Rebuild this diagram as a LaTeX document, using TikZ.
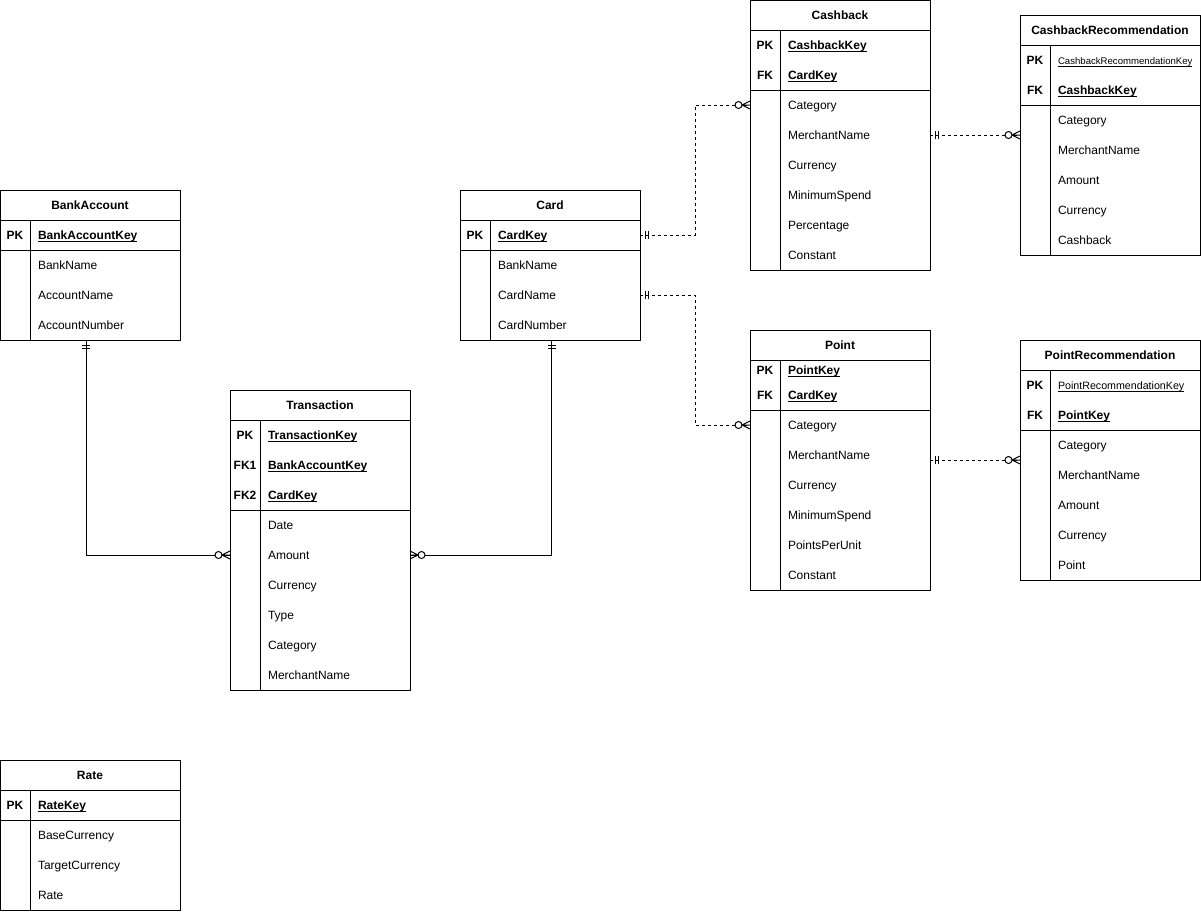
\documentclass[tikz,border=0pt]{standalone}
\usepackage{fontspec}
\setmainfont{Liberation Sans}
\usepackage{tikz}
\usetikzlibrary{calc}

\newcommand{\rowstrut}{\rule[-2.2pt]{0pt}{11pt}}
\newcommand{\keyline}[1]{\setbox0\hbox{#1}\rlap{\rule[-1.6pt]{\wd0}{0.6pt}}\box0}
\newcommand{\keyrow}[2]{\rowstrut\makebox[22.5pt]{\bfseries #1}\hspace{6pt}\keyline{\bfseries #2}}
\newcommand{\smallkey}[3]{\rowstrut\makebox[22.5pt]{\bfseries #1}\hspace{6pt}\keyline{\fontsize{#3}{9}\selectfont #2}}
\newcommand{\attr}[1]{\rowstrut\hspace*{28.5pt}#1}

\newcommand{\mandone}[2]{%
  \begin{scope}[shift={#1},rotate=#2]
    \draw[solid] (5,-4) -- (5,4) (8,-4) -- (8,4);
  \end{scope}}
\newcommand{\zeromany}[2]{%
  \begin{scope}[shift={#1},rotate=#2]
    \draw[solid] (0,-4) -- (8,0) -- (0,4) (0,0) -- (8,0);
    \draw[solid,fill=white] (11.5,0) circle (3.5);
  \end{scope}}

\begin{document}
\begin{tikzpicture}[x=0.75pt,y=-0.75pt,line width=0.75pt,
  font=\fontsize{9}{11}\selectfont,
  every node/.style={outer sep=0pt},
  tbl/.style={draw,minimum width=135pt,minimum height=22.5pt,inner sep=0pt,font=\fontsize{9}{11}\selectfont\bfseries},
  row/.style={text width=135pt,minimum height=22.5pt,inner sep=0pt,align=left},
  thinrow/.style={row,minimum height=18.75pt},
  optional/.style={dash pattern=on 2.25pt off 2.25pt}]
\useasboundingbox (0,0) rectangle (1201,911);

\node[tbl] (bank) at (90,205) {BankAccount};
\node[row] (bank-k1) at (90,235) {\keyrow{PK}{BankAccountKey}};
\node[row] (bank-a1) at (90,265) {\attr{BankName}};
\node[row] (bank-a2) at (90,295) {\attr{AccountName}};
\node[row] (bank-a3) at (90,325) {\attr{AccountNumber}};
\draw (bank.north west) rectangle (bank-a3.south east);
\draw (bank-a1.north west) -- (bank-a1.north east);
\draw ($(bank.south west)+(30,0)$) -- ($(bank-a3.south west)+(30,0)$);

\node[tbl] (card) at (550,205) {Card};
\node[row] (card-k1) at (550,235) {\keyrow{PK}{CardKey}};
\node[row] (card-a1) at (550,265) {\attr{BankName}};
\node[row] (card-a2) at (550,295) {\attr{CardName}};
\node[row] (card-a3) at (550,325) {\attr{CardNumber}};
\draw (card.north west) rectangle (card-a3.south east);
\draw (card-a1.north west) -- (card-a1.north east);
\draw ($(card.south west)+(30,0)$) -- ($(card-a3.south west)+(30,0)$);

\node[tbl] (tr) at (320,405) {Transaction};
\node[row] (tr-k1) at (320,435) {\keyrow{PK}{TransactionKey}};
\node[row] (tr-k2) at (320,465) {\keyrow{FK1}{BankAccountKey}};
\node[row] (tr-k3) at (320,495) {\keyrow{FK2}{CardKey}};
\node[row] (tr-a1) at (320,525) {\attr{Date}};
\node[row] (tr-a2) at (320,555) {\attr{Amount}};
\node[row] (tr-a3) at (320,585) {\attr{Currency}};
\node[row] (tr-a4) at (320,615) {\attr{Type}};
\node[row] (tr-a5) at (320,645) {\attr{Category}};
\node[row] (tr-a6) at (320,675) {\attr{MerchantName}};
\draw (tr.north west) rectangle (tr-a6.south east);
\draw (tr-a1.north west) -- (tr-a1.north east);
\draw ($(tr.south west)+(30,0)$) -- ($(tr-a6.south west)+(30,0)$);

\node[tbl] (rate) at (90,775) {Rate};
\node[row] (rate-k1) at (90,805) {\keyrow{PK}{RateKey}};
\node[row] (rate-a1) at (90,835) {\attr{BaseCurrency}};
\node[row] (rate-a2) at (90,865) {\attr{TargetCurrency}};
\node[row] (rate-a3) at (90,895) {\attr{Rate}};
\draw (rate.north west) rectangle (rate-a3.south east);
\draw (rate-a1.north west) -- (rate-a1.north east);
\draw ($(rate.south west)+(30,0)$) -- ($(rate-a3.south west)+(30,0)$);

\node[tbl] (cb) at (840,15) {Cashback};
\node[row] (cb-k1) at (840,45) {\keyrow{PK}{CashbackKey}};
\node[row] (cb-k2) at (840,75) {\keyrow{FK}{CardKey}};
\node[row] (cb-a1) at (840,105) {\attr{Category}};
\node[row] (cb-a2) at (840,135) {\attr{MerchantName}};
\node[row] (cb-a3) at (840,165) {\attr{Currency}};
\node[row] (cb-a4) at (840,195) {\attr{MinimumSpend}};
\node[row] (cb-a5) at (840,225) {\attr{Percentage}};
\node[row] (cb-a6) at (840,255) {\attr{Constant}};
\draw (cb.north west) rectangle (cb-a6.south east);
\draw (cb-a1.north west) -- (cb-a1.north east);
\draw ($(cb.south west)+(30,0)$) -- ($(cb-a6.south west)+(30,0)$);

\node[tbl] (cbr) at (1110,30) {CashbackRecommendation};
\node[row] (cbr-k1) at (1110,60) {\smallkey{PK}{CashbackRecommendationKey}{7.2}};
\node[row] (cbr-k2) at (1110,90) {\keyrow{FK}{CashbackKey}};
\node[row] (cbr-a1) at (1110,120) {\attr{Category}};
\node[row] (cbr-a2) at (1110,150) {\attr{MerchantName}};
\node[row] (cbr-a3) at (1110,180) {\attr{Amount}};
\node[row] (cbr-a4) at (1110,210) {\attr{Currency}};
\node[row] (cbr-a5) at (1110,240) {\attr{Cashback}};
\draw (cbr.north west) rectangle (cbr-a5.south east);
\draw (cbr-a1.north west) -- (cbr-a1.north east);
\draw ($(cbr.south west)+(30,0)$) -- ($(cbr-a5.south west)+(30,0)$);

\node[tbl] (pt) at (840,345) {Point};
\node[thinrow] (pt-k1) at (840,370.5) {\keyrow{PK}{PointKey}};
\node[thinrow] (pt-k2) at (840,395.5) {\keyrow{FK}{CardKey}};
\node[row] (pt-a1) at (840,425) {\attr{Category}};
\node[row] (pt-a2) at (840,455) {\attr{MerchantName}};
\node[row] (pt-a3) at (840,485) {\attr{Currency}};
\node[row] (pt-a4) at (840,515) {\attr{MinimumSpend}};
\node[row] (pt-a5) at (840,545) {\attr{PointsPerUnit}};
\node[row] (pt-a6) at (840,575) {\attr{Constant}};
\draw (pt.north west) rectangle (pt-a6.south east);
\draw (pt-a1.north west) -- (pt-a1.north east);
\draw ($(pt.south west)+(30,0)$) -- ($(pt-a6.south west)+(30,0)$);

\node[tbl] (ptr) at (1110,355) {PointRecommendation};
\node[row] (ptr-k1) at (1110,385) {\smallkey{PK}{PointRecommendationKey}{8}};
\node[row] (ptr-k2) at (1110,415) {\keyrow{FK}{PointKey}};
\node[row] (ptr-a1) at (1110,445) {\attr{Category}};
\node[row] (ptr-a2) at (1110,475) {\attr{MerchantName}};
\node[row] (ptr-a3) at (1110,505) {\attr{Amount}};
\node[row] (ptr-a4) at (1110,535) {\attr{Currency}};
\node[row] (ptr-a5) at (1110,565) {\attr{Point}};
\draw (ptr.north west) rectangle (ptr-a5.south east);
\draw (ptr-a1.north west) -- (ptr-a1.north east);
\draw ($(ptr.south west)+(30,0)$) -- ($(ptr-a5.south west)+(30,0)$);

\coordinate (bank-out) at ($(bank-a3.south)+(-4,0)$);
\coordinate (card-out) at ($(card-a3.south)+(1.5,0)$);
\draw (bank-out) |- (tr-a2.west);
\draw (card-out) |- (tr-a2.east);
\draw[optional] (card-k1.east) -- ++(55,0) |- (cb-a1.west);
\draw[optional] (card-a2.east) -- ++(55,0) |- (pt-a1.west);
\draw[optional] (cbr-a1.south west -| cb-a2.east) -- (cbr-a1.south west);
\draw[optional] (ptr-a1.south west -| pt-a2.east) -- (ptr-a1.south west);

\mandone{(bank-out)}{-90}
\zeromany{(tr-a2.west)}{180}
\mandone{(card-out)}{-90}
\zeromany{(tr-a2.east)}{0}
\mandone{(card-k1.east)}{0}
\zeromany{(cb-a1.west)}{180}
\mandone{(card-a2.east)}{0}
\zeromany{(pt-a1.west)}{180}
\mandone{(cbr-a1.south west -| cb-a2.east)}{0}
\zeromany{(cbr-a1.south west)}{180}
\mandone{(ptr-a1.south west -| pt-a2.east)}{0}
\zeromany{(ptr-a1.south west)}{180}

\end{tikzpicture}
\end{document}
